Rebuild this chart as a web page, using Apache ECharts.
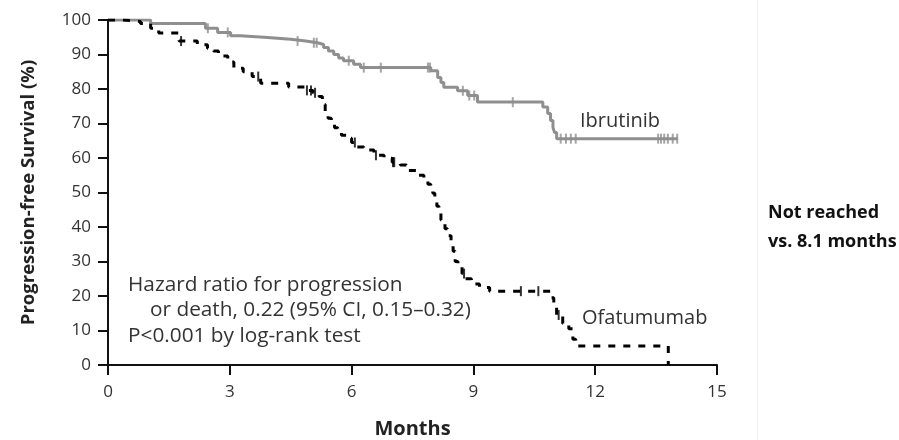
<!DOCTYPE html>
<html>
<head>
<meta charset="utf-8">
<script src="https://cdn.jsdelivr.net/npm/echarts@6/dist/echarts.min.js"></script>
<style>
  html, body { margin: 0; padding: 0; background: #ffffff; }
  #chart { width: 899px; height: 440px; }
</style>
</head>
<body>
<div id="chart"></div>
<script>
// Kaplan-Meier progression-free survival, Ibrutinib vs Ofatumumab
const xTicks = [0, 3, 6, 9, 12, 15];
const yTicks = [0, 10, 20, 30, 40, 50, 60, 70, 80, 90, 100];

// Ibrutinib: event times (months) and survival (%) after each step
const ibrTime = [0, 1.05, 2.4, 2.7, 3.02, 3.26, 3.93, 4.5, 4.87, 5.16, 5.31, 5.43, 5.56, 5.68, 5.8, 6.05, 6.22,
  7.95, 8.12, 8.2, 8.27, 8.61, 8.86, 9.1, 10.71, 10.83, 10.9, 10.96, 11.0, 11.05, 14.03];
const ibrSurv = [100, 99, 97.6, 96.4, 95.4, 94.9, 94.4, 93.9, 93.4, 92.9, 92, 91, 90, 89, 88.2, 87.2, 86.2,
  85.3, 83.3, 81.9, 80.5, 79.5, 78.1, 76.2, 74.8, 72.9, 70.9, 68.8, 67.4, 65.6, 65.6];
const ibrCensor = [2.46, 2.95, 4.67, 5.07, 5.14, 5.93, 6.3, 6.72, 7.88, 7.93, 8.74, 8.9, 9.02, 9.97,
  11.15, 11.28, 11.4, 11.52, 13.55, 13.62, 13.7, 13.79, 13.91, 14.02];

// Ofatumumab
const ofaTime = [0, 0.35, 0.8, 1.05, 1.25, 1.75, 2.2, 2.45, 2.6, 2.72, 2.95, 3.1, 3.33, 3.55, 3.76, 4.45,
  4.88, 5.05, 5.2, 5.28, 5.35, 5.42, 5.5, 5.58, 5.66, 5.75, 5.9, 6.0, 6.12, 6.3, 6.55, 6.8, 7.0, 7.2, 7.35,
  7.6, 7.78, 7.88, 7.95, 8.0, 8.05, 8.1, 8.15, 8.2, 8.3, 8.36, 8.45, 8.5, 8.55, 8.62, 8.72, 8.8, 8.95, 9.15,
  9.4, 10.9, 10.98, 11.05, 11.2, 11.35, 11.45, 11.52, 13.8];
const ofaSurv = [100, 99.6, 99, 97.6, 96.2, 93.9, 92.8, 91.8, 91, 89.6, 87.8, 86, 85, 83.6, 81.7, 80.6,
  79.6, 78.9, 77.8, 75.5, 73.5, 71.5, 70, 68.8, 67.6, 66.6, 65.7, 64.5, 63.2, 62.3, 60.8, 59.9, 58.8, 58, 56.4,
  55, 53.5, 52.4, 51.2, 49.8, 48, 46, 44.5, 42, 39.5, 37.5, 35, 33, 30, 28.5, 26.5, 25, 23.5, 22.5,
  21.4, 19.5, 17, 14.5, 12, 10.5, 7.5, 5.5, 0];
const ofaCensor = [1.8, 3.7, 4.9, 5.0, 5.1, 6.08, 6.6, 7.02, 7.05, 8.77, 10.17, 10.6, 11.1];

// survival value of a step curve at time t
function stepValue(times, surv, t) {
  let v = surv[0];
  for (let i = 0; i < times.length; i++) { if (times[i] <= t) v = surv[i]; }
  return v;
}
const pairs = (a, b) => a.map((t, i) => [t, b[i]]);
const censorPts = (c, times, surv) => c.map(t => [t, stepValue(times, surv, t)]);

const GREY = '#8f8f8f';
const TXT = '#333333';
const FONT = '"Open Sans", Lato, sans-serif';

const chart = echarts.init(document.getElementById('chart'), null, { renderer: 'canvas' });
chart.setOption({
  backgroundColor: '#ffffff',
  animation: false,
  grid: { left: 108, right: 182, top: 20, bottom: 75, outerBoundsMode: 'none', containLabel: false },
  xAxis: {
    type: 'value', min: xTicks[0], max: xTicks[xTicks.length - 1], interval: 3,
    name: 'Months', nameLocation: 'middle', nameGap: 54,
    nameTextStyle: { fontFamily: FONT, fontWeight: 'bold', fontSize: 20, color: '#222' },
    axisLine: { lineStyle: { color: '#111', width: 2 } },
    axisTick: { length: 10, lineStyle: { color: '#111', width: 2 } },
    axisLabel: { margin: 19, fontFamily: FONT, fontSize: 17, color: TXT },
    splitLine: { show: false }
  },
  yAxis: {
    type: 'value', min: yTicks[0], max: yTicks[yTicks.length - 1], interval: 10,
    name: 'Progression-free Survival (%)', nameLocation: 'middle', nameGap: 70,
    nameTextStyle: { fontFamily: FONT, fontWeight: 'bold', fontSize: 18.5, color: '#222' },
    axisLine: { show: true, lineStyle: { color: '#111', width: 2 } },
    axisTick: { show: true, length: 10, lineStyle: { color: '#111', width: 2 } },
    axisLabel: { margin: 17, fontFamily: FONT, fontSize: 17, color: TXT },
    splitLine: { show: false }
  },
  series: [
    {
      name: 'Ibrutinib', type: 'line', step: 'end', data: pairs(ibrTime, ibrSurv),
      showSymbol: false, lineStyle: { color: GREY, width: 3 }, z: 3
    },
    {
      name: 'Ibrutinib censored', type: 'scatter', data: censorPts(ibrCensor, ibrTime, ibrSurv),
      symbol: 'rect', symbolSize: [2, 10], itemStyle: { color: GREY }, z: 4
    },
    {
      name: 'Ofatumumab', type: 'line', step: 'end', data: pairs(ofaTime, ofaSurv),
      showSymbol: false, lineStyle: { color: '#000', width: 3, type: [7, 8] }, z: 5
    },
    {
      name: 'Ofatumumab censored', type: 'scatter', data: censorPts(ofaCensor, ofaTime, ofaSurv),
      symbol: 'rect', symbolSize: [2, 10], itemStyle: { color: '#000' }, z: 6
    }
  ],
  graphic: [
    { type: 'text', x: 580, y: 121,
      style: { text: 'Ibrutinib', font: '20px ' + FONT, fill: TXT, verticalAlign: 'middle' } },
    { type: 'text', x: 582, y: 318,
      style: { text: 'Ofatumumab', font: '20px ' + FONT, fill: TXT, verticalAlign: 'middle' } },
    { type: 'text', x: 128, y: 285,
      style: { text: 'Hazard ratio for progression', font: '20.8px ' + FONT, fill: TXT, verticalAlign: 'middle' } },
    { type: 'text', x: 150, y: 310,
      style: { text: 'or death, 0.22 (95% CI, 0.15\u20130.32)', font: '20.8px ' + FONT, fill: TXT, verticalAlign: 'middle' } },
    { type: 'text', x: 128, y: 336,
      style: { text: 'P<0.001 by log-rank test', font: '20.8px ' + FONT, fill: TXT, verticalAlign: 'middle' } },
    { type: 'line', shape: { x1: 757.5, y1: 0, x2: 757.5, y2: 440 },
      style: { stroke: '#f2f2f2', lineWidth: 1 } },
    { type: 'text', x: 768, y: 213,
      style: { text: 'Not reached', font: 'bold 18px ' + FONT, fill: '#111', verticalAlign: 'middle' } },
    { type: 'text', x: 768, y: 242,
      style: { text: 'vs. 8.1 months', font: 'bold 18px ' + FONT, fill: '#111', verticalAlign: 'middle' } }
  ]
});
</script>
</body>
</html>
